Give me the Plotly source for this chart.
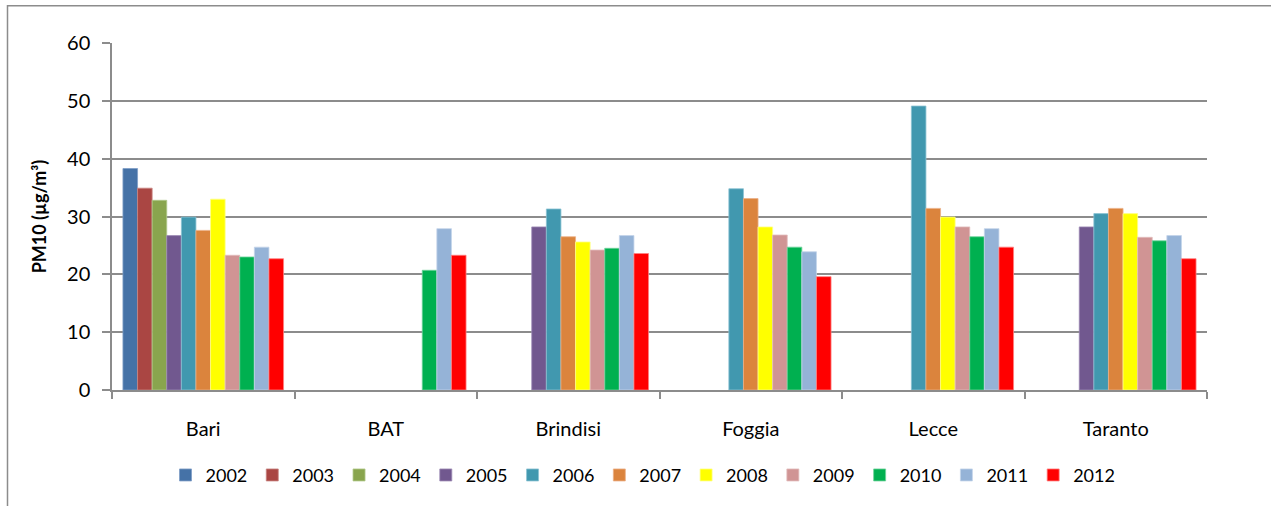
import plotly.graph_objects as go

# Provinces on the category axis
provinces = ["Bari", "BAT", "Brindisi", "Foggia", "Lecce", "Taranto"]

# Annual mean PM10 concentration per year (None = no monitoring data)
pm10_2002 = [38.3, None, None, None, None, None]
pm10_2003 = [34.9, None, None, None, None, None]
pm10_2004 = [32.8, None, None, None, None, None]
pm10_2005 = [26.7, None, 28.2, None, None, 28.2]
pm10_2006 = [29.9, None, 31.3, 34.8, 49.1, 30.5]
pm10_2007 = [27.6, None, 26.5, 33.1, 31.4, 31.4]
pm10_2008 = [33.0, None, 25.6, 28.2, 29.9, 30.5]
pm10_2009 = [23.3, None, 24.2, 26.8, 28.2, 26.4]
pm10_2010 = [23.0, 20.7, 24.5, 24.7, 26.5, 25.8]
pm10_2011 = [24.7, 27.9, 26.7, 23.9, 27.9, 26.7]
pm10_2012 = [22.7, 23.3, 23.6, 19.6, 24.7, 22.7]

years = ["2002", "2003", "2004", "2005", "2006", "2007",
         "2008", "2009", "2010", "2011", "2012"]
series = [pm10_2002, pm10_2003, pm10_2004, pm10_2005, pm10_2006, pm10_2007,
          pm10_2008, pm10_2009, pm10_2010, pm10_2011, pm10_2012]
colors = ["#4572A7", "#AA4643", "#89A54E", "#71588F", "#4198AF", "#DB843D",
          "#FFFF00", "#D09494", "#00B050", "#95B3D7", "#FF0000"]
edge_colors = ["#7f9dc6", "#c98582", "#b1c98b", "#9d8ab5", "#8cc3d3", "#ebb088",
               "#ffff8a", "#e2bcbc", "#6fd39a", "#c4d4ea", "#ff8080"]

W, H = 1271, 506
L, R, T, B = 112, 64, 43, 113
FONT = "Lato, 'Open Sans', sans-serif"

fig = go.Figure()
for yr, vals, c, ec in zip(years, series, colors, edge_colors):
    fig.add_trace(go.Bar(
        name=yr, x=provinces, y=vals,
        marker=dict(color=c, line=dict(color=ec, width=0.8)),
    ))

# outer chart-area frame (runs off the right and bottom edges)
pw, ph = W - L - R, H - T - B
def px_to_paper_x(px):
    return (px - L) / pw
def px_to_paper_y(py):
    return (H - B - py) / ph

fig.add_shape(type="rect", xref="paper", yref="paper",
              x0=px_to_paper_x(7.5), x1=px_to_paper_x(W + 20),
              y0=px_to_paper_y(H + 20), y1=px_to_paper_y(5.5),
              line=dict(color="#8c8c8c", width=1.5), fillcolor="rgba(0,0,0,0)",
              layer="below")

fig.update_layout(
    width=W, height=H,
    margin=dict(l=L, r=R, t=T, b=B),
    paper_bgcolor="white", plot_bgcolor="white",
    barmode="group", bargap=0.12, bargroupgap=0,
    font=dict(family=FONT, size=20, color="#000000"),
    legend=dict(orientation="h", x=px_to_paper_x(643), xanchor="center",
                y=px_to_paper_y(479), yanchor="middle",
                font=dict(family=FONT, size=18, color="#000000"),
                itemwidth=30, tracegroupgap=0, traceorder="normal"),
    xaxis=dict(
        showline=True, linecolor="#8c8c8c", linewidth=1.5,
        ticks="outside", tickson="boundaries", ticklen=7,
        tickcolor="#8c8c8c", tickwidth=1.5,
        ticklabelstandoff=20,
        tickfont=dict(family=FONT, size=20),
        showgrid=False, fixedrange=True,
    ),
    yaxis=dict(
        range=[0, 60], dtick=10,
        showline=True, linecolor="#8c8c8c", linewidth=1.5,
        ticks="outside", ticklen=8, tickcolor="#8c8c8c", tickwidth=1.5,
        ticklabelstandoff=8,
        showgrid=True, gridcolor="#8c8c8c", gridwidth=1.5,
        zeroline=False,
        tickfont=dict(family=FONT, size=20),
        title=dict(text="<b>PM10 (µg/m³)</b>", font=dict(family=FONT, size=18),
                   standoff=16),
    ),
)

fig.write_html("out.html")
